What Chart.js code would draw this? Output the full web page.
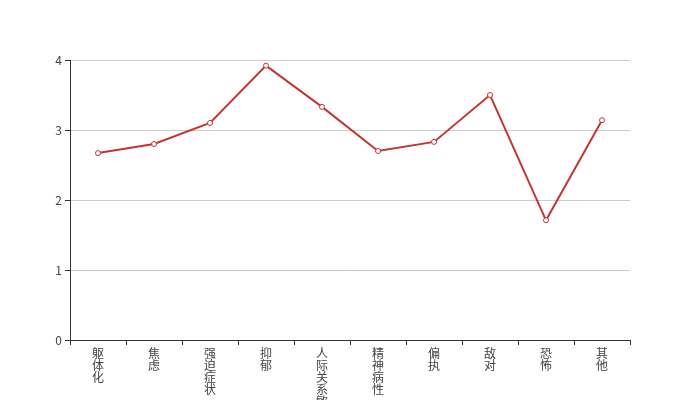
<!DOCTYPE html>
<html>
<head>
<meta charset="utf-8">
<script src="https://cdn.jsdelivr.net/npm/chart.js@4"></script>
<style>
html,body{margin:0;padding:0;background:#fff;}
#wrap{width:700px;height:400px;}
</style>
</head>
<body>
<div id="wrap"><canvas id="c" width="700" height="400"></canvas></div>
<script>
const categories = ['躯体化','焦虑','强迫症状','抑郁','人际关系敏感','精神病性','偏执','敌对','恐怖','其他'];
const scores = [2.67, 2.80, 3.10, 3.92, 3.33, 2.70, 2.83, 3.50, 1.71, 3.14];
const yTicks = [0, 1, 2, 3, 4];

const FONT = '"Noto Sans CJK SC", "Noto Sans", sans-serif';

new Chart(document.getElementById('c'), {
  type: 'line',
  data: {
    labels: categories.map(s => s.split('')),
    datasets: [{
      data: scores,
      borderColor: '#c23531',
      borderWidth: 2,
      pointRadius: 2.5,
      pointBorderWidth: 1,
      pointBackgroundColor: '#fff',
      pointBorderColor: '#c23531',
      tension: 0,
      fill: false
    }]
  },
  options: {
    responsive: false,
    animation: false,
    devicePixelRatio: 1,
    layout: { padding: { top: 60, right: 70, left: 0, bottom: 0 } },
    plugins: { legend: { display: false }, tooltip: { enabled: false } },
    scales: {
      x: {
        offset: true,
        grid: { offset: true, drawOnChartArea: false, drawTicks: true, tickLength: 5, color: '#333', tickColor: '#333' },
        border: { display: true, color: '#333', width: 1 },
        ticks: { color: '#444', font: { family: FONT, size: 12, lineHeight: 1.0 }, padding: 2, maxRotation: 0, autoSkip: false },
        afterFit: s => { s.height = 60; }
      },
      y: {
        min: 0, max: 4,
        afterBuildTicks: s => { s.ticks = yTicks.map(v => ({ value: v })); },
        grid: { color: ctx => (ctx.tick && ctx.tick.value === 0) ? 'rgba(0,0,0,0)' : '#ccc', tickColor: '#333', tickLength: 5, lineWidth: 1 },
        border: { display: true, color: '#333', width: 1 },
        ticks: { color: '#444', font: { family: FONT, size: 12 }, padding: 3 },
        afterFit: s => { s.width = 70; }
      }
    }
  }
});
</script>
</body>
</html>
